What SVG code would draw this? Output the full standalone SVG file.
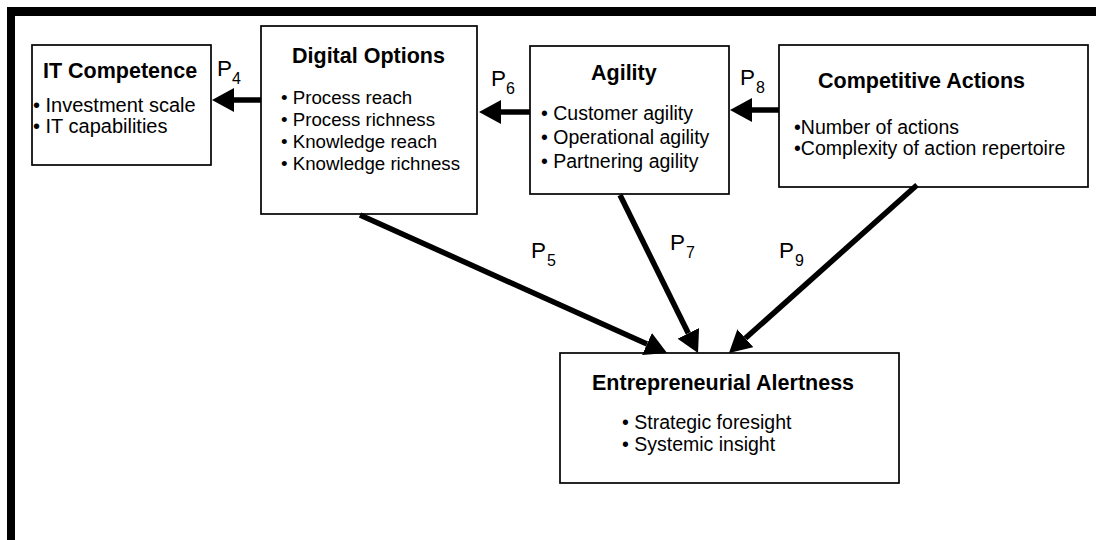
<svg xmlns="http://www.w3.org/2000/svg" width="1096" height="540" viewBox="0 0 1096 540">
<style>
.box{fill:#fff;stroke:#000;stroke-width:1.7}
.t{font-family:"Liberation Sans",Arial,sans-serif;font-weight:bold;font-size:21.5px;fill:#000}
.b{font-family:"Liberation Sans",Arial,sans-serif;font-size:19.5px;fill:#000}
.p{font-family:"Liberation Sans",Arial,sans-serif;font-size:22.5px;fill:#000}
.s{font-size:16px}
.c{stroke:#000;stroke-width:5.5;fill:none;marker-end:url(#ah)}
</style>
<defs>
<marker id="ah" markerUnits="userSpaceOnUse" markerWidth="22" markerHeight="24" refX="0" refY="12" orient="auto" viewBox="0 0 22 24">
<path d="M0,0 L22,12 L0,24 z" fill="#000"/>
</marker>
</defs>
<rect width="1096" height="540" fill="#fff"/>
<g id="frame">
<rect x="7" y="7" width="1089" height="9" fill="#000"/>
<rect x="7" y="7" width="8" height="533" fill="#000"/>
</g>
<g id="it-competence">
<rect class="box" x="32" y="45" width="179" height="120"/>
<text class="t" x="43" y="78">IT Competence</text>
<text class="b" x="33" y="112" style="font-size:20px">• Investment scale</text>
<text class="b" x="33" y="133" style="font-size:20px">• IT capabilities</text>
</g>
<g id="digital-options">
<rect class="box" x="261" y="26" width="216" height="188"/>
<text class="t" x="292" y="63">Digital Options</text>
<text class="b" x="281" y="104" style="font-size:18.7px">• Process reach</text>
<text class="b" x="281" y="126" style="font-size:18.7px">• Process richness</text>
<text class="b" x="281" y="148" style="font-size:18.7px">• Knowledge reach</text>
<text class="b" x="281" y="170" style="font-size:18.7px">• Knowledge richness</text>
</g>
<g id="agility">
<rect class="box" x="530" y="46" width="199" height="148"/>
<text class="t" x="591" y="80">Agility</text>
<text class="b" x="541" y="120">• Customer agility</text>
<text class="b" x="541" y="144">• Operational agility</text>
<text class="b" x="541" y="168">• Partnering agility</text>
</g>
<g id="competitive-actions">
<rect class="box" x="779" y="45" width="309" height="142"/>
<text class="t" x="818" y="88">Competitive Actions</text>
<text class="b" x="794" y="134">•Number of actions</text>
<text class="b" x="794" y="155">•Complexity of action repertoire</text>
</g>
<g id="entrepreneurial-alertness">
<rect class="box" x="560" y="353" width="339" height="130"/>
<text class="t" x="592" y="390">Entrepreneurial Alertness</text>
<text class="b" x="622" y="429">• Strategic foresight</text>
<text class="b" x="622" y="451">• Systemic insight</text>
</g>
<g id="connectors">
<line class="c" x1="261" y1="100" x2="234" y2="100"/>
<line class="c" x1="530" y1="112" x2="501" y2="112"/>
<line class="c" x1="779" y1="110" x2="752" y2="110"/>
<line class="c" x1="360" y1="215" x2="647" y2="344"/>
<line class="c" x1="620" y1="195" x2="688.3" y2="333.3"/>
<line class="c" x1="917" y1="185" x2="745.4" y2="338.3"/>
</g>
<g id="labels">
<text class="p" x="217" y="76">P<tspan class="s" x="232" y="84">4</tspan></text>
<text class="p" x="491" y="86">P<tspan class="s" x="506" y="94">6</tspan></text>
<text class="p" x="740" y="85">P<tspan class="s" x="756" y="93">8</tspan></text>
<text class="p" x="531" y="258">P<tspan class="s" x="547" y="266">5</tspan></text>
<text class="p" x="670" y="250">P<tspan class="s" x="686" y="258">7</tspan></text>
<text class="p" x="779" y="258">P<tspan class="s" x="795" y="266">9</tspan></text>
</g>
</svg>
